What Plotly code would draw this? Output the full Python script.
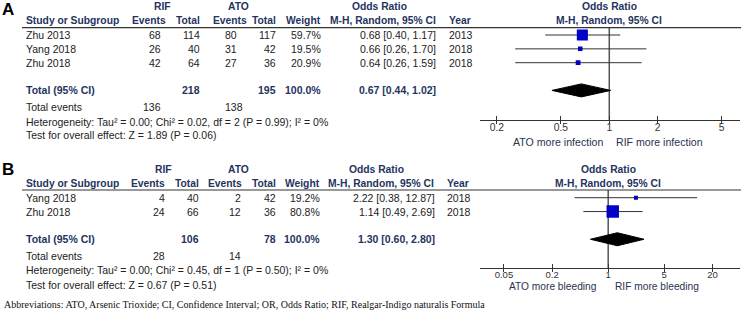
import plotly.graph_objects as go

# ---------------- Panel A data (infection) ----------------
a_study = ["Zhu 2013", "Yang 2018", "Zhu 2018"]
a_rif_events = [68, 26, 42]
a_rif_total = [114, 40, 64]
a_ato_events = [80, 31, 27]
a_ato_total = [117, 42, 36]
a_weight = [59.7, 19.5, 20.9]
a_or = [0.68, 0.66, 0.64]
a_lo = [0.40, 0.26, 0.26]
a_hi = [1.17, 1.70, 1.59]
a_year = [2013, 2018, 2018]
a_total = {"rif_total": 218, "ato_total": 195, "weight": 100.0,
           "or": 0.67, "lo": 0.44, "hi": 1.02, "rif_events": 136, "ato_events": 138}
a_het = "Heterogeneity: Tau² = 0.00; Chi² = 0.02, df = 2 (P = 0.99); I² = 0%"
a_test = "Test for overall effect: Z = 1.89 (P = 0.06)"
a_ticks = [0.2, 0.5, 1, 2, 5]
a_favours = ["ATO more infection", "RIF more infection"]

# ---------------- Panel B data (bleeding) ----------------
b_study = ["Yang 2018", "Zhu 2018"]
b_rif_events = [4, 24]
b_rif_total = [40, 66]
b_ato_events = [2, 12]
b_ato_total = [42, 36]
b_weight = [19.2, 80.8]
b_or = [2.22, 1.14]
b_lo = [0.38, 0.49]
b_hi = [12.87, 2.69]
b_year = [2018, 2018]
b_total = {"rif_total": 106, "ato_total": 78, "weight": 100.0,
           "or": 1.30, "lo": 0.60, "hi": 2.80, "rif_events": 28, "ato_events": 14}
b_het = "Heterogeneity: Tau² = 0.00; Chi² = 0.45, df = 1 (P = 0.50); I² = 0%"
b_test = "Test for overall effect: Z = 0.67 (P = 0.51)"
b_ticks = [0.05, 0.2, 1, 5, 20]
b_favours = ["ATO more bleeding", "RIF more bleeding"]

footnote = ("Abbreviations: ATO, Arsenic Trioxide; CI, Confidence Interval; OR, Odds Ratio; "
            "RIF, Realgar-Indigo naturalis Formula")

W, H = 741, 320
SANS = "Liberation Sans, Arial, sans-serif"
SERIF = "Liberation Serif, Times New Roman, serif"
HEAD = "#1f3460"
BODY = "#222222"
ROW = 13.85  # pixel height of a table row


def px(x):
    return x / W


def py(y):
    return 1 - y / H


fig = go.Figure()
annotations = []
shapes = []


def add_panel(k, letter, data, cfg):
    xa = "x" if k == 1 else "x%d" % k
    ya = "y" if k == 1 else "y%d" % k
    study, rev, rtot, aev, atot, wt, orv, lo, hi, yr, tot, het, test, ticks, fav = data
    n = len(study)
    r0 = cfg["row0"]
    ytop = (cfg["top"] - r0) / ROW
    ybot = (cfg["bottom"] - r0) / ROW
    rows = list(range(n))
    trow = n + 1

    def rowy(r):
        return py(r0 + r * ROW)

    # reference line at OR = 1
    fig.add_trace(go.Scatter(x=[1, 1], y=[ytop, ybot], mode="lines",
                             line=dict(color="#555555", width=1.5), xaxis=xa, yaxis=ya,
                             hoverinfo="skip", showlegend=False, cliponaxis=False))
    # CI whiskers
    xs, ys = [], []
    for i, (l, h) in enumerate(zip(lo, hi)):
        xs += [l, h, None]
        ys += [i, i, None]
    fig.add_trace(go.Scatter(x=xs, y=ys, mode="lines", line=dict(color="#333333", width=1),
                             xaxis=xa, yaxis=ya, hoverinfo="skip", showlegend=False))
    # weighted squares
    sizes = [cfg["box"] * w ** 0.8 for w in wt]
    fig.add_trace(go.Scatter(x=orv, y=rows, mode="markers",
                             marker=dict(symbol="square", size=sizes, color="#0000c8",
                                         opacity=1, line=dict(width=0)),
                             xaxis=xa, yaxis=ya, hoverinfo="skip", showlegend=False))
    # pooled diamond
    dh = 0.47
    fig.add_trace(go.Scatter(x=[tot["lo"], tot["or"], tot["hi"], tot["or"], tot["lo"]],
                             y=[trow, trow - dh, trow, trow + dh, trow],
                             mode="lines", fill="toself", fillcolor="black",
                             line=dict(color="black", width=1),
                             xaxis=xa, yaxis=ya, hoverinfo="skip", showlegend=False))
    # overlay axis (downward half of the ticks)
    ox = "x%d" % (k + 2)
    fig.add_trace(go.Scatter(x=[], y=[], xaxis=ox, yaxis=ya, showlegend=False))

    # header line
    shapes.append(dict(type="line", xref="paper", yref=ya + " domain", x0=px(22), x1=1,
                       y0=1, y1=1, line=dict(color="#333333", width=1.2)))

    def txt(x, r, s, anchor="left", bold=False, color=BODY, size=10.5, xref="paper",
            family=SANS, xshift=0):
        annotations.append(dict(x=px(x) if xref == "paper" else x, y=rowy(r), xref=xref,
                                yref="paper",
                                text="<b>%s</b>" % s if bold else s, showarrow=False,
                                xanchor=anchor, yanchor="middle", xshift=xshift,
                                font=dict(family=family, size=size, color=color)))

    c = cfg["cols"]
    h1, h2 = -2.07, -1.04
    # letter
    annotations.append(dict(x=0, y=py(cfg["letter_y"]), xref="paper", yref="paper",
                            text="<b>%s</b>" % letter, showarrow=False, xanchor="left",
                            yanchor="middle", font=dict(family=SANS, size=17, color="black")))
    # headers
    txt(c["rif_c"], h1, "RIF", "center", True, HEAD, 10.3)
    txt(c["ato_c"], h1, "ATO", "center", True, HEAD, 10.3)
    txt(c["or_c"], h1, "Odds Ratio", "center", True, HEAD, 10.3)
    txt(24, h2, "Study or Subgroup", "left", True, HEAD, 10.3)
    txt(c["rev_h"], h2, "Events", "right", True, HEAD, 10.3)
    txt(c["rtot"], h2, "Total", "right", True, HEAD, 10.3)
    txt(c["aev_h"], h2, "Events", "right", True, HEAD, 10.3)
    txt(c["atot"], h2, "Total", "right", True, HEAD, 10.3)
    txt(c["wt"], h2, "Weight", "right", True, HEAD, 10.3)
    txt(c["mh"], h2, "M-H, Random, 95% CI", "right", True, HEAD, 10.3)
    txt(c["year"], h2, "Year", "left", True, HEAD, 10.3)
    # plot headers centred on OR = 1 (log axis -> log10(1) = 0)
    txt(0, h1, "Odds Ratio", "center", True, HEAD, 10.3, xref=xa)
    txt(0, h2, "M-H, Random, 95% CI", "center", True, HEAD, 10.3, xref=xa)
    # study rows
    for i in range(n):
        txt(24, i, study[i])
        txt(c["rev"], i, str(rev[i]), "right")
        txt(c["rtot"], i, str(rtot[i]), "right")
        txt(c["aev"], i, str(aev[i]), "right")
        txt(c["atot"], i, str(atot[i]), "right")
        txt(c["wt"], i, "%.1f%%" % wt[i], "right")
        txt(c["or_r"], i, "%.2f [%.2f, %.2f]" % (orv[i], lo[i], hi[i]), "right")
        txt(c["year"], i, str(yr[i]))
    # total row
    txt(24, trow, "Total (95% CI)", bold=True, color=HEAD)
    txt(c["rtot"], trow, str(tot["rif_total"]), "right", True, HEAD)
    txt(c["atot"], trow, str(tot["ato_total"]), "right", True, HEAD)
    txt(c["wt"], trow, "%.1f%%" % tot["weight"], "right", True, HEAD)
    txt(c["or_r"], trow, "%.2f [%.2f, %.2f]" % (tot["or"], tot["lo"], tot["hi"]), "right", True, HEAD)
    # summary lines
    txt(24, cfg["ev_row"], "Total events")
    txt(c["rev_ev"], cfg["ev_row"], str(tot["rif_events"]), "right")
    txt(c["aev_ev"], cfg["ev_row"], str(tot["ato_events"]), "right")
    txt(24, cfg["het_row"], het)
    txt(24, cfg["test_row"], test)
    # favours labels
    txt(0, cfg["fav_row"], fav[0], "right", color="#2a3350", size=cfg["fav_size"], xref=xa,
        xshift=cfg["fav_shift"][0])
    txt(0, cfg["fav_row"], fav[1], "left", color="#2a3350", size=cfg["fav_size"], xref=xa,
        xshift=cfg["fav_shift"][1])

    axis_common = dict(type="log", range=cfg["xrange"], domain=[px(480), px(740)],
                       showgrid=False, zeroline=False, fixedrange=True)
    fig.layout[xa.replace("x", "xaxis")] = dict(
        **axis_common, anchor=ya, tickvals=ticks, ticktext=[("%g" % t) for t in ticks],
        ticks="inside", ticklen=4, tickwidth=1, tickcolor="#333333",
        showline=True, linecolor="#333333", linewidth=1,
        ticklabelstandoff=cfg["tick_standoff"],
        tickfont=dict(family=SANS, size=cfg["tick_size"], color="#333333"))
    fig.layout[ox.replace("x", "xaxis")] = dict(
        **axis_common, anchor=ya, overlaying=xa, tickvals=ticks, ticks="outside", ticklen=3,
        tickwidth=1, tickcolor="#333333", showticklabels=False, showline=False)
    fig.layout[ya.replace("y", "yaxis")] = dict(
        domain=[py(cfg["bottom"]), py(cfg["top"])], range=[ybot, ytop], visible=False,
        fixedrange=True)


cfg_a = dict(row0=35.0, top=27.7, bottom=120.0, letter_y=9.5, box=0.42,
             xrange=[-0.804, 0.813], ev_row=5.2, het_row=6.25, test_row=7.22, fav_row=7.72,
             fav_size=10.6, fav_shift=(-4, 5), tick_size=10.3, tick_standoff=-2,
             cols=dict(rif_c=162.5, ato_c=238.7, or_c=379.3, rev_h=167.7, rev=163.3, rtot=202,
                       aev_h=249.3, aev=239.3, atot=278.3, wt=322.7, mh=438.3, or_r=437.7,
                       year=447, rev_ev=163.3, aev_ev=245))
cfg_b = dict(row0=197.7, top=190.0, bottom=268.3, letter_y=169.5, box=0.37,
             xrange=[-1.600, 1.645], ev_row=4.21, het_row=5.25, test_row=6.3, fav_row=6.4,
             fav_size=10.2, fav_shift=(-9, 5), tick_size=9.5, tick_standoff=-3,
             cols=dict(rif_c=163.3, ato_c=238.7, or_c=376.0, rev_h=166.7, rev=166.7, rtot=201,
                       aev_h=244.3, aev=243.3, atot=277.7, wt=321.7, mh=435.5, or_r=436.7,
                       year=445.5, rev_ev=166.7, aev_ev=243.3))

add_panel(1, "A", (a_study, a_rif_events, a_rif_total, a_ato_events, a_ato_total, a_weight,
                   a_or, a_lo, a_hi, a_year, a_total, a_het, a_test, a_ticks, a_favours), cfg_a)
add_panel(2, "B", (b_study, b_rif_events, b_rif_total, b_ato_events, b_ato_total, b_weight,
                   b_or, b_lo, b_hi, b_year, b_total, b_het, b_test, b_ticks, b_favours), cfg_b)

annotations.append(dict(x=px(2), y=py(304.5), xref="paper", yref="paper", text=footnote,
                        showarrow=False, xanchor="left", yanchor="middle",
                        font=dict(family=SERIF, size=10, color="#111111")))

fig.update_layout(width=W, height=H, autosize=False, margin=dict(l=0, r=0, t=0, b=0),
                  paper_bgcolor="white", plot_bgcolor="rgba(0,0,0,0)", showlegend=False,
                  hovermode=False, annotations=annotations, shapes=shapes)

fig.write_html("out.html", config={"displayModeBar": False},
               post_script="document.body.style.margin='0';document.body.style.overflow='hidden';")
